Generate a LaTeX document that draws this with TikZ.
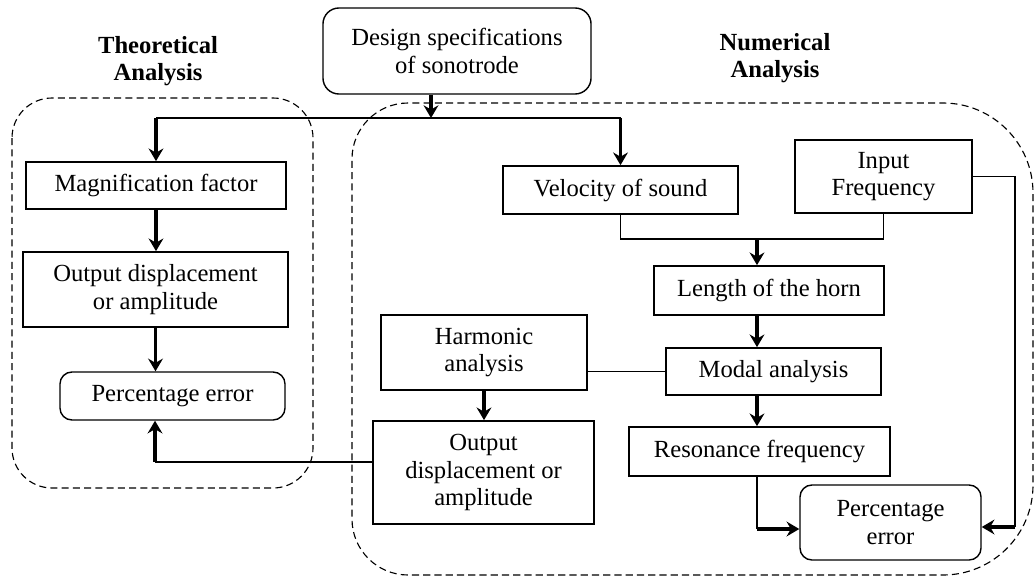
\documentclass[tikz,border=0pt]{standalone}
\usepackage{fontspec}
\setmainfont{Liberation Serif}
\usetikzlibrary{arrows.meta}

\begin{document}
\begin{tikzpicture}[x=0.025cm,y=-0.025cm,
  font=\fontsize{17.5}{19.5}\selectfont,
  box/.style={draw,line width=1.2pt,align=center,inner sep=2pt},
  rbox/.style={box,rounded corners=0.3cm,line width=1pt},
  frame/.style={draw,line width=0.8pt,dash pattern=on 5pt off 3pt},
  conn/.style={line width=0.9pt},
  arr/.style={line width=2.2pt,-{Stealth[length=9pt,width=10.5pt,inset=3pt]}},
  head/.style={font=\fontsize{17.5}{19.5}\selectfont\bfseries,align=center}]
  \useasboundingbox (0,0) rectangle (1036,578);
  \draw[frame,rounded corners=1cm] (12,98) rectangle (313,488);
  \draw[frame] (692,103) [rounded corners=2.25cm] -- (1033,103) -- (1033,575) -- (692,575)
    [rounded corners=1.4cm] -- (352,575) -- (352,103) -- cycle;
  \node[rbox,minimum width=6.7cm,minimum height=2.15cm,rounded corners=0.4cm] (design) at (457,51) {Design specifications\\of sonotrode};
  \node[head] (theo) at (158,61) {Theoretical\\Analysis};
  \node[head] (num) at (775,58) {Numerical\\Analysis};
  \node[box,minimum width=6.5cm,minimum height=1.175cm] (mag) at (156,185.5) {Magnification factor};
  \node[box,minimum width=6.625cm,minimum height=1.875cm] (outL) at (155.5,289.5) {Output displacement\\or amplitude};
  \node[rbox,minimum width=5.625cm,minimum height=1.2cm] (pctL) at (172.5,396) {Percentage error};
  \node[box,minimum width=5.875cm,minimum height=1.2cm] (vel) at (620.5,190) {Velocity of sound};
  \node[box,minimum width=4.425cm,minimum height=1.825cm] (inp) at (883.5,176.5) {Input\\Frequency};
  \node[box,minimum width=5.75cm,minimum height=1.225cm] (len) at (769,290.5) {Length of the horn};
  \node[box,minimum width=5.375cm,minimum height=1.175cm] (modal) at (773.5,371.5) {Modal analysis};
  \node[box,minimum width=5.15cm,minimum height=1.875cm] (harm) at (484,352.5) {Harmonic\\analysis};
  \node[box,minimum width=5.525cm,minimum height=2.575cm] (outR) at (483.5,472.5) {Output\\displacement or\\amplitude};
  \node[box,minimum width=6.525cm,minimum height=1.225cm] (res) at (759.5,451.5) {Resonance frequency};
  \node[rbox,minimum width=4.525cm,minimum height=1.875cm] (pctR) at (890.5,522.5) {Percentage\\error};
  \coordinate (split) at (431,118);
  \coordinate (merge) at (757,239);
  \coordinate (back) at (155,462);
  \coordinate (join) at (757,529);
  \coordinate (rail) at (1015,527);
  \draw[arr] (design.south -| split) -- (split);
  \draw[conn] (mag.north |- split) -- (vel.north |- split);
  \draw[arr] (mag.north |- split) -- (mag.north);
  \draw[arr] (vel.north |- split) -- (vel.north);
  \draw[arr] (mag.south) -- (mag.south |- outL.north);
  \draw[arr] (outL.south) -- (outL.south |- pctL.north);
  \draw[conn] (outR.west |- back) -- (back);
  \draw[arr] (back) -- (back |- pctL.south);
  \draw[conn] (vel.south) |- (merge) -| (inp.south);
  \draw[arr] (merge) -- (merge |- len.north);
  \draw[arr] (merge |- len.south) -- (merge |- modal.north);
  \draw[arr] (merge |- modal.south) -- (merge |- res.north);
  \draw[conn] (modal.west) -- (modal.west -| harm.east);
  \draw[arr] (harm.south) -- (harm.south |- outR.north);
  \draw[conn] (merge |- res.south) -- (join);
  \draw[arr] (join) -- (join -| pctR.west);
  \draw[conn] (inp.east) -| (rail);
  \draw[arr] (rail) -- (rail -| pctR.east);
\end{tikzpicture}
\end{document}
